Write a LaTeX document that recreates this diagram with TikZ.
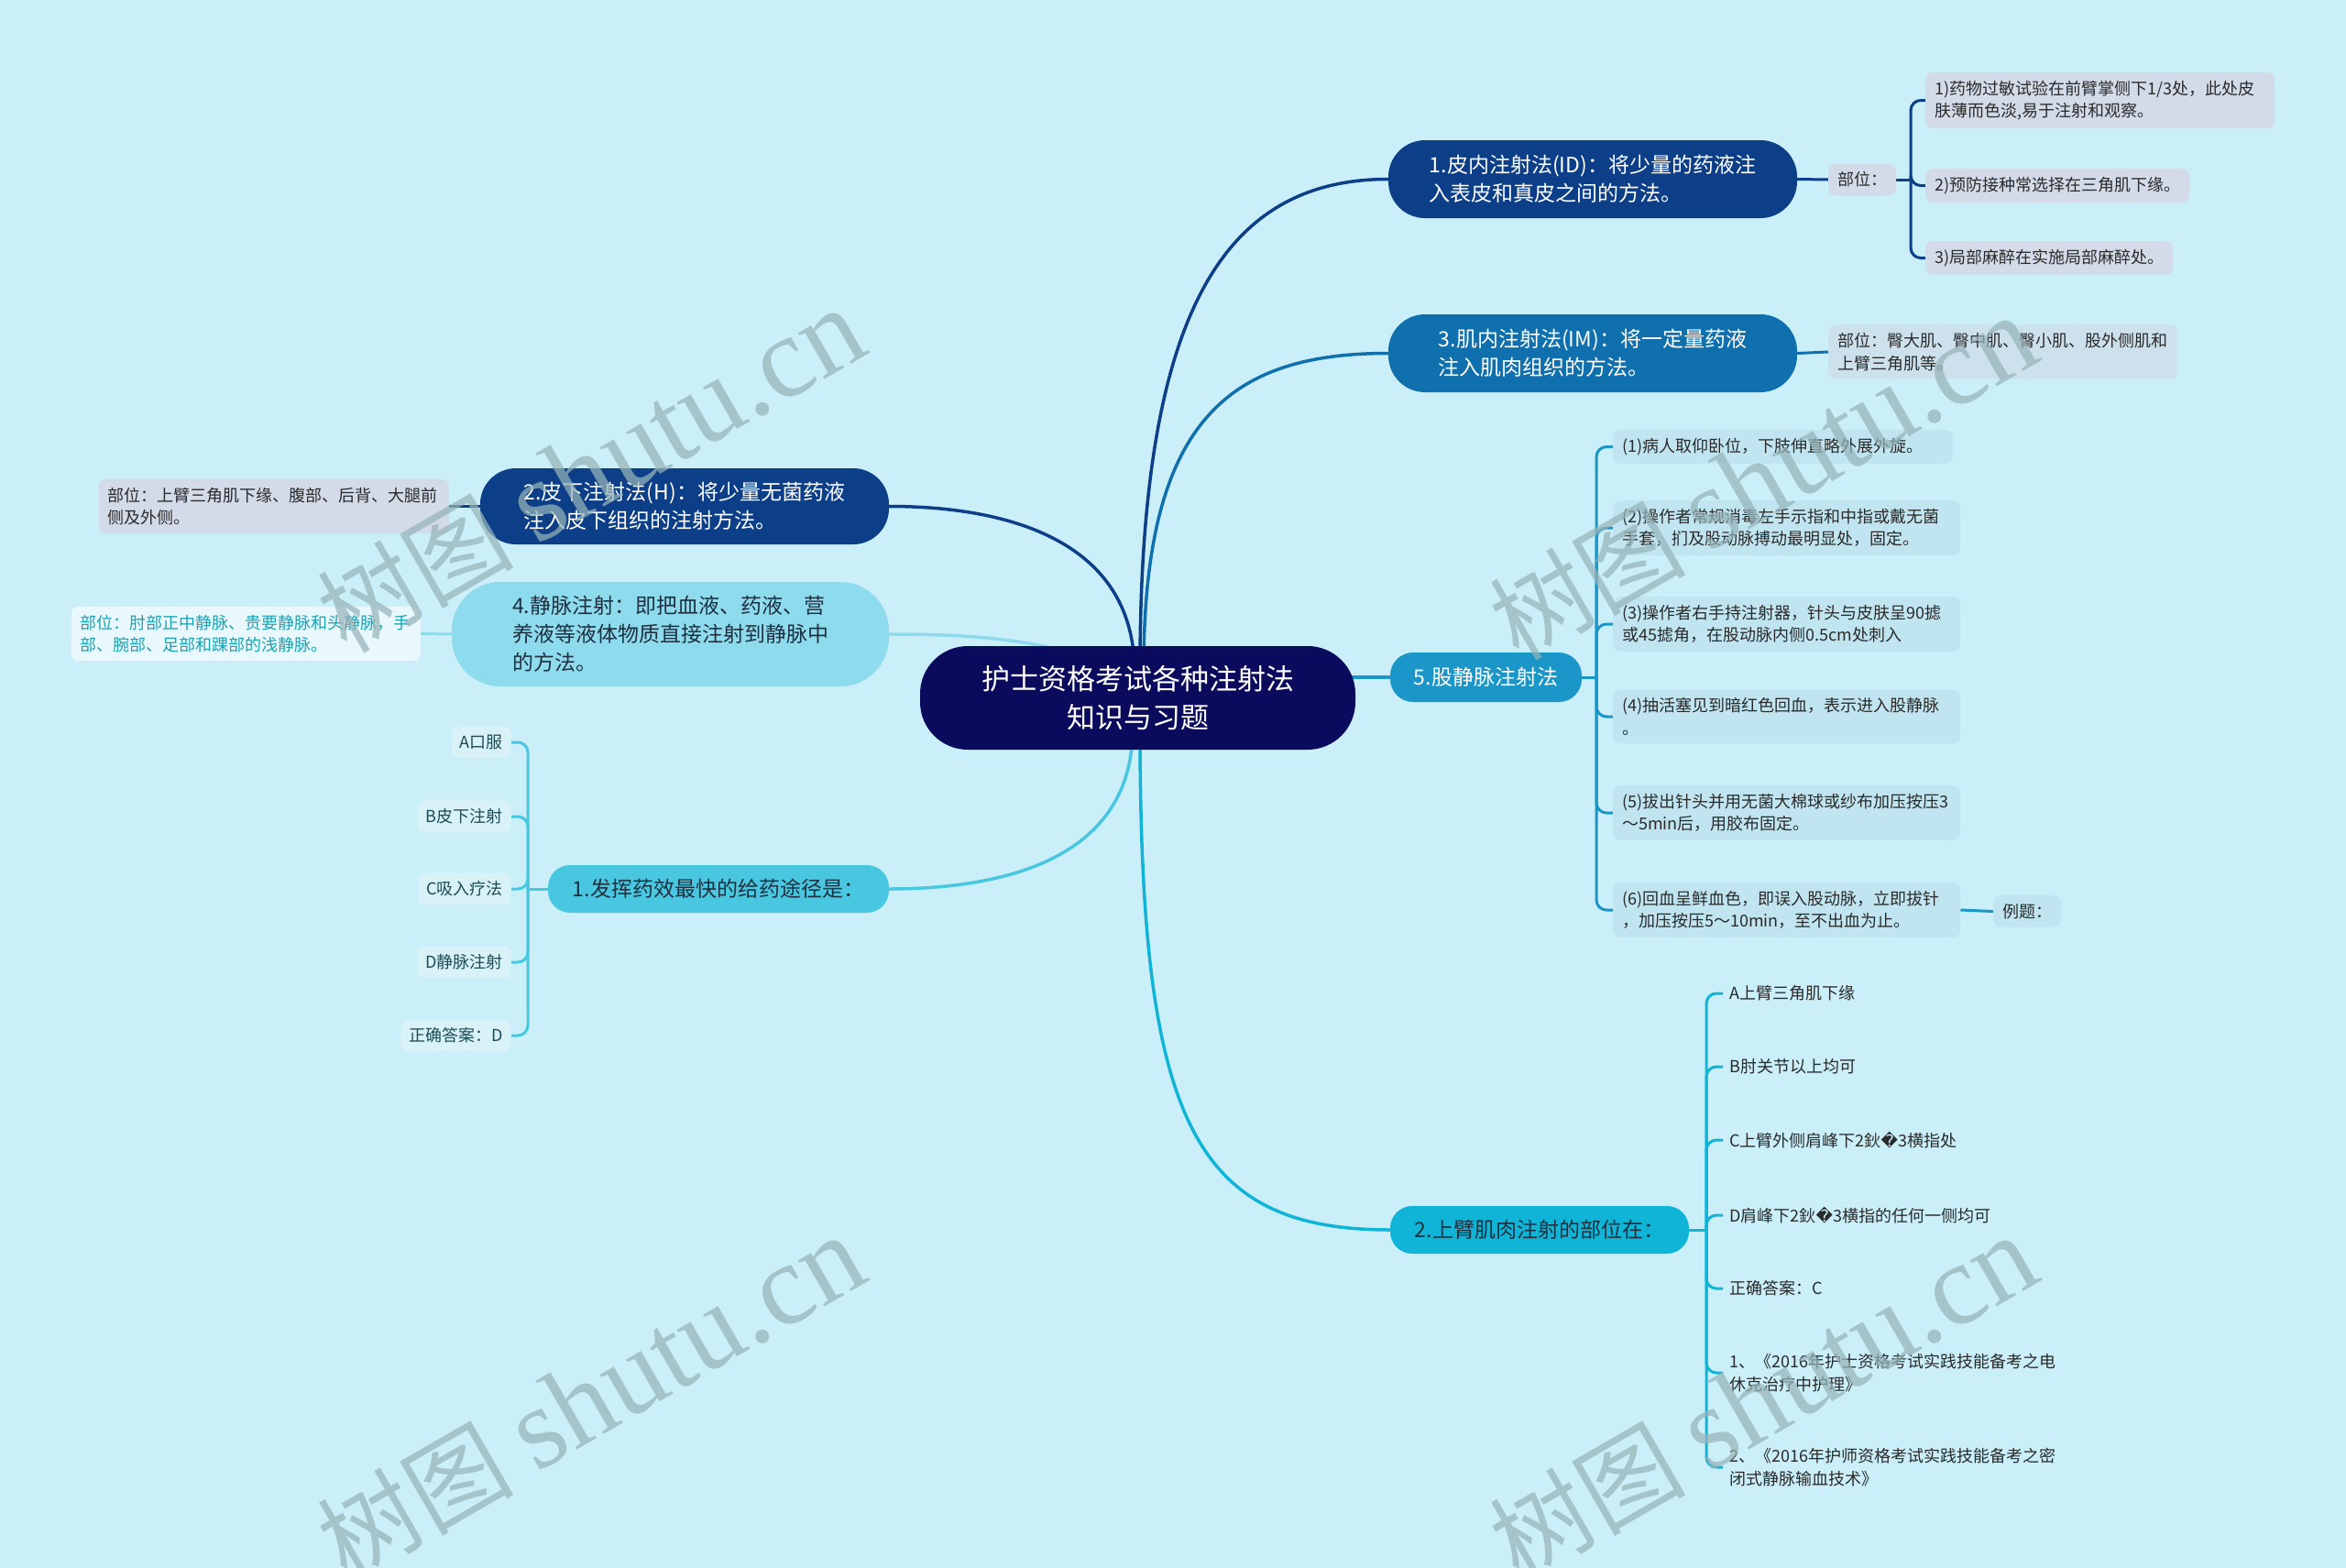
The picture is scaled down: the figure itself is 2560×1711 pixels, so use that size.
\documentclass[tikz,border=0pt]{standalone}
\usepackage{fontspec}
\setmainfont{Noto Sans CJK SC}
\newfontfamily\dejavu{DejaVu Sans}
\newfontfamily\wmlatin{Liberation Serif}
\usetikzlibrary{calc}
\definecolor{cBg}{HTML}{CAEFF8}
\definecolor{cRoot}{HTML}{0B0B5D}
\definecolor{cD}{HTML}{0C3F88}
\definecolor{cM}{HTML}{1070AD}
\definecolor{cF}{HTML}{1A97C8}
\definecolor{cU}{HTML}{10B4D6}
\definecolor{cQ}{HTML}{4AC7E0}
\definecolor{cV}{HTML}{8FDBEE}
\definecolor{cGray}{HTML}{D3DBE8}
\definecolor{cGray2}{HTML}{CDE1ED}
\definecolor{cFbox}{HTML}{C0E5F0}
\definecolor{cQbox}{HTML}{D8F2F8}
\definecolor{cVbox}{HTML}{E8F8FC}
\definecolor{cTxt}{HTML}{2A2A2A}
\definecolor{cDark}{HTML}{1E3040}
\definecolor{cTeal}{HTML}{1AA3B3}
\definecolor{cQtxt}{HTML}{1D4B55}
\definecolor{cWm}{HTML}{96B4B9}
\pgfdeclarelayer{bgl}
\pgfdeclarelayer{lines}
\pgfdeclarelayer{wm}
\pgfsetlayers{bgl,lines,main,wm}
\tikzset{
  topic/.style={inner sep=0pt, align=left, font=\fontsize{23pt}{31pt}\selectfont},
  leaf/.style={inner xsep=10pt, inner ysep=9pt, rounded corners=8pt, align=left,
    font=\fontsize{18pt}{24.5pt}\selectfont, text=cTxt},
  conn/.style={line width=3.5pt},
  sub/.style={line width=3pt, rounded corners=11pt},
  wmark/.style={text=cWm, opacity=0.72, rotate=30, inner sep=0pt}
}
\begin{document}
\begin{tikzpicture}[x=1pt,y=-1pt]
\begin{pgfonlayer}{bgl}
\fill[cBg] (0,0) rectangle (2560,1711);
\end{pgfonlayer}
\useasboundingbox (0,0) rectangle (2560,1711);

% ---------- root ----------
\node[topic, fill=cRoot, text=white, minimum width=475pt, minimum height=113pt,
  rounded corners=52pt, align=center, font=\fontsize{31pt}{42.5pt}\selectfont]
  (root) at (1241.5,761.5) {护士资格考试各种注射法\\知识与习题};

% ---------- right side ----------
\node[topic, fill=cD, text=white, minimum width=446pt, minimum height=85pt, rounded corners=40pt]
  (n1) at (1738,195.5) {1.皮内注射法(ID)：将少量的药液注\\入表皮和真皮之间的方法。};
\node[leaf, fill=cGray] (p1) at (2032,196) {部位：};
\node[leaf, fill=cGray, anchor=west, text width=361pt] (i11) at (2101,109.5)
  {1)药物过敏试验在前臂掌侧下1/3处，此处皮\\肤薄而色淡,易于注射和观察。};
\node[leaf, fill=cGray, anchor=west] (i12) at (2101,202.5) {2)预防接种常选择在三角肌下缘。};
\node[leaf, fill=cGray, anchor=west] (i13) at (2101,281.5) {3)局部麻醉在实施局部麻醉处。};

\node[topic, fill=cM, text=white, minimum width=446pt, minimum height=85pt, rounded corners=40pt]
  (n3) at (1738,385.5) {3.肌内注射法(IM)：将一定量药液\\注入肌肉组织的方法。};
\node[leaf, fill=cGray2, anchor=west, text width=361pt] (p3) at (1995,384)
  {部位：臀大肌、臀中肌、臀小肌、股外侧肌和\\上臂三角肌等。};

\node[topic, fill=cF, text=white, minimum width=209pt, minimum height=54pt, rounded corners=25pt]
  (n5) at (1621.5,739) {5.股静脉注射法};
\tikzset{fleaf/.style={leaf, fill=cFbox, anchor=west, text width=359pt}}
\node[fleaf, text width=351pt] (i51) at (1760,487.5) {(1)病人取仰卧位，下肢伸直略外展外旋。};
\node[fleaf] (i52) at (1760,576) {(2)操作者常规消毒左手示指和中指或戴无菌\\手套，扪及股动脉搏动最明显处，固定。};
\node[fleaf] (i53) at (1760,681) {(3)操作者右手持注射器，针头与皮肤呈90摅\\或45摅角，在股动脉内侧0.5cm处刺入};
\node[fleaf] (i54) at (1760,782) {(4)抽活塞见到暗红色回血，表示进入股静脉\\。};
\node[fleaf] (i55) at (1760,887) {(5)拔出针头并用无菌大棉球或纱布加压按压3\\～5min后，用胶布固定。};
\node[fleaf] (i56) at (1760,993) {(6)回血呈鲜血色，即误入股动脉，立即拔针\\，加压按压5～10min，至不出血为止。};
\node[leaf, fill=cFbox, anchor=west] (ex) at (2175,994.5) {例题：};

\node[topic, fill=cU, text=cDark, minimum width=326pt, minimum height=52pt, rounded corners=24pt]
  (n2b) at (1680,1342) {2.上臂肌肉注射的部位在：};
\tikzset{uleaf/.style={leaf, inner xsep=7pt, anchor=west}}
\node[uleaf] (j1) at (1880,1084) {A上臂三角肌下缘};
\node[uleaf] (j2) at (1880,1164) {B肘关节以上均可};
\node[uleaf] (j3) at (1880,1244) {C上臂外侧肩峰下2鈥{\dejavu �}3横指处};
\node[uleaf] (j4) at (1880,1326) {D肩峰下2鈥{\dejavu �}3横指的任何一侧均可};
\node[uleaf] (j5) at (1880,1406) {正确答案：C};
\node[uleaf] (j6) at (1880,1498) {1、《2016年护士资格考试实践技能备考之电\\休克治疗中护理》};
\node[uleaf] (j7) at (1880,1601) {2、《2016年护师资格考试实践技能备考之密\\闭式静脉输血技术》};

% ---------- left side ----------
\node[topic, fill=cD, text=white, minimum width=446pt, minimum height=83pt, rounded corners=39pt]
  (n2) at (747,552.5) {2.皮下注射法(H)：将少量无菌药液\\注入皮下组织的注射方法。};
\node[leaf, fill=cGray, anchor=east, text width=362pt] (p2) at (490,552.5)
  {部位：上臂三角肌下缘、腹部、后背、大腿前\\侧及外侧。};

\node[topic, fill=cV, text=cDark, minimum width=477pt, minimum height=114pt, rounded corners=53pt]
  (n4) at (731.5,692) {4.静脉注射：即把血液、药液、营\\养液等液体物质直接注射到静脉中\\的方法。};
\node[leaf, fill=cVbox, text=cTeal, anchor=east, text width=361pt] (p4) at (459,691.5)
  {部位：肘部正中静脉、贵要静脉和头静脉，手\\部、腕部、足部和踝部的浅静脉。};

\node[topic, fill=cQ, text=cDark, minimum width=372pt, minimum height=52pt, rounded corners=24pt]
  (n1q) at (784,970) {1.发挥药效最快的给药途径是：};
\tikzset{qleaf/.style={leaf, fill=cQbox, text=cQtxt, anchor=east, inner xsep=9pt}}
\node[qleaf] (q1) at (558,810) {A口服};
\node[qleaf] (q2) at (558,891) {B皮下注射};
\node[qleaf] (q3) at (558,970) {C吸入疗法};
\node[qleaf] (q4) at (558,1050) {D静脉注射};
\node[qleaf] (q5) at (558,1130) {正确答案：D};

% ---------- connectors ----------
\begin{pgfonlayer}{lines}
\coordinate (r1) at (1244,730);
\coordinate (r3) at (1248,730);
\coordinate (r5) at (1460,739);
\coordinate (rb) at (1244,795);
\coordinate (r2) at (1238,730);
\coordinate (r4) at (1236,735);
\coordinate (rq) at (1236,795);
\draw[conn, cD] (r1) .. controls (1244,350) and (1330,195.5) .. (n1.west);
\draw[conn, cM] (r3) .. controls (1248,460) and (1340,385.5) .. (n3.west);
\draw[conn, cF] (r5) -- (n5.west);
\draw[conn, cU] (rb) .. controls (1244,1220) and (1300,1342) .. (n2b.west);
\draw[conn, cD] (r2) .. controls (1236,590) and (1100,552.5) .. (n2.east);
\draw[conn, cV] (r4) .. controls (1150,700) and (1080,692) .. (n4.east);
\draw[conn, cQ] (rq) .. controls (1236,935) and (1100,970) .. (n1q.east);

% node 1 group
\draw[sub, cD] (n1.east) -- (p1.west);
\coordinate (s1) at (2085,196);
\draw[sub, cD] (p1.east) -- (s1);
\foreach \k in {i11,i12,i13} \draw[sub, cD] (s1) |- (\k.west);
% node 3 group
\draw[sub, cM] (n3.east) -- (p3.west);
% node 5 group
\coordinate (s5) at (1742,739);
\draw[sub, cF] (n5.east) -- (s5);
\foreach \k in {i51,i52,i53,i54,i55,i56} \draw[sub, cF] (s5) |- (\k.west);
\draw[sub, cF] (i56.east) -- (ex.west);
% upper arm group
\coordinate (sb) at (1862,1342);
\draw[sub, cU] (n2b.east) -- (sb);
\foreach \k in {j1,j2,j3,j4,j5,j6,j7} \draw[sub, cU] (sb) |- (\k.west);
% left groups
\draw[sub, cD] (n2.west) -- (p2.east);
\draw[sub, cV] (n4.west) -- (p4.east);
\coordinate (sq) at (576,970);
\draw[sub, cQ] (n1q.west) -- (sq);
\foreach \k in {q1,q2,q3,q4,q5} \draw[sub, cQ] (sq) |- (\k.east);
\end{pgfonlayer}

% ---------- watermarks ----------
\begin{pgfonlayer}{wm}
\foreach \p/\nm in {{(645,514)}/w1,{(645,1526)}/w2,{(1924,522)}/w3,{(1924,1526)}/w4}
  \node[wmark] (\nm) at \p {\fontsize{107pt}{107pt}\selectfont 树图 \wmlatin\fontsize{126pt}{126pt}\selectfont shutu.cn};
\end{pgfonlayer}
\end{tikzpicture}
\end{document}
